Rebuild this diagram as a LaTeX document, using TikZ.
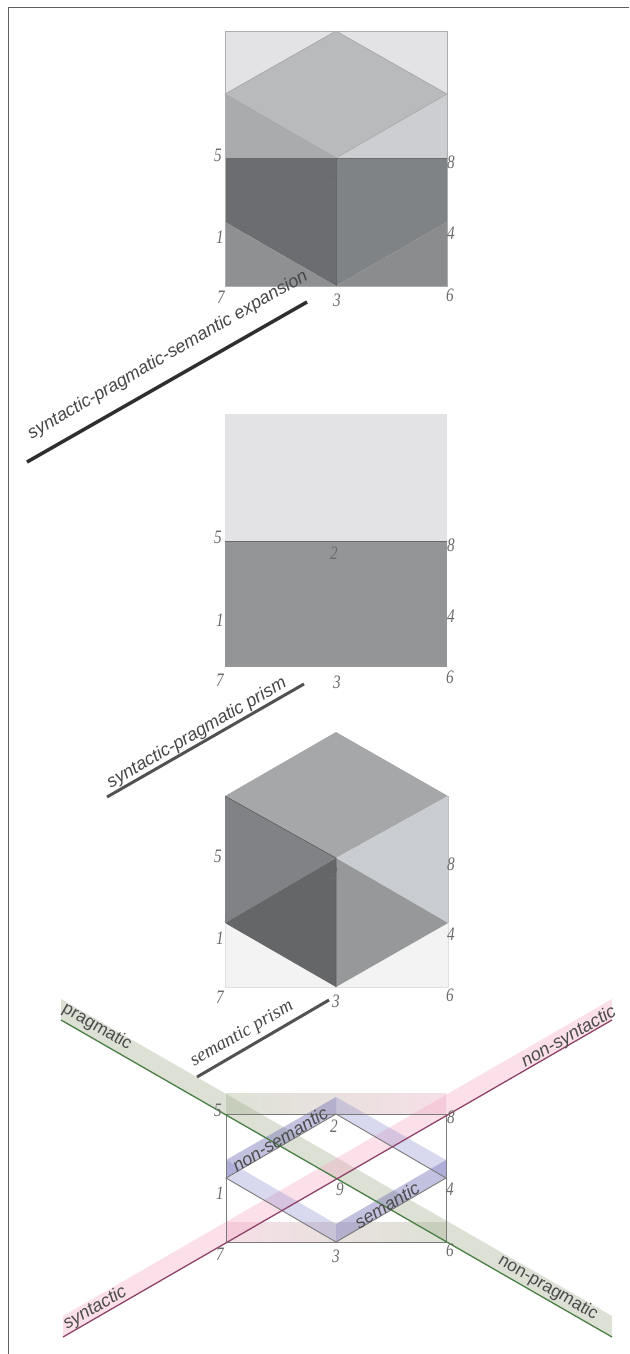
\documentclass[tikz,border=0pt]{standalone}
\usepackage{fontspec}
\usetikzlibrary{calc}
\setmainfont{Liberation Sans}
\newfontfamily\serifit{Liberation Serif}
\definecolor{aTop}{HTML}{E3E3E6}
\definecolor{aRh}{HTML}{B8BABC}
\definecolor{aLt}{HTML}{A9ABAD}
\definecolor{aRt}{HTML}{CCCED1}
\definecolor{aMl}{HTML}{6B6D70}
\definecolor{aMr}{HTML}{808385}
\definecolor{aBl}{HTML}{8E9092}
\definecolor{aBr}{HTML}{8A8C8E}
\definecolor{bLow}{HTML}{939597}
\definecolor{dRh}{HTML}{A5A7A9}
\definecolor{dLf}{HTML}{808285}
\definecolor{dLl}{HTML}{646668}
\definecolor{dLr}{HTML}{96989A}
\definecolor{dUr}{HTML}{C9CCD0}
\definecolor{dLow}{HTML}{F3F3F3}
\definecolor{gBand}{HTML}{A2AC8F}
\definecolor{pBand}{HTML}{F5AAC6}
\definecolor{rG}{HTML}{DDE2D6}
\definecolor{rM}{HTML}{E4DEDD}
\definecolor{rP}{HTML}{F6DFE7}
\definecolor{vDark}{HTML}{6060B0}
\definecolor{vLight}{HTML}{8080C8}
\definecolor{gLine}{HTML}{4A7F45}
\definecolor{pLine}{HTML}{8E4468}
\begin{document}
\begin{tikzpicture}[x=1pt,y=-1pt,
  numlab/.style={font=\serifit\itshape\fontsize{19}{19}\selectfont,text=black!58,inner sep=0pt,xscale=.8},
  caplab/.style={font=\itshape\fontsize{18}{18}\selectfont,text=black!72,inner sep=0pt,rotate=30},
  bandlab/.style={font=\itshape\fontsize{18}{18}\selectfont,text=black!70,inner sep=0pt},
  bandlabup/.style={font=\fontsize{17.5}{18}\selectfont,text=black!70,inner sep=0pt},
  capline/.style={line width=3pt,draw=black!68},
  edgeg/.style={draw=black!35,line width=0.6pt},
  greenband/.style={fill=gBand,fill opacity=.37},
  pinkband/.style={fill=pBand,fill opacity=.36},
  purpband/.style={fill=vDark,fill opacity=.38},
  purplight/.style={fill=vLight,fill opacity=.3},
  greenline/.style={draw=gLine,line width=1.3pt},
  pinkline/.style={draw=pLine,line width=1.3pt}]
\useasboundingbox (0,0) rectangle (629,1354);
\fill[white] (0,0) rectangle (629,1354);
\draw[black!62,line width=1.3pt] (8.5,1354) -- (8.5,7.5) -- (629,7.5);

% ---------- panel 1
\coordinate (a7) at (225,286); \coordinate (a6) at (447,286);
\coordinate (a5) at (225,158); \coordinate (a8) at (447,158);
\coordinate (aTL) at (225,31); \coordinate (aTR) at (447,31);
\coordinate (aT) at (336,31); \coordinate (aL) at (225,94); \coordinate (aR) at (447,94);
\coordinate (a2) at (336,158); \coordinate (a3) at (336,286);
\coordinate (a1) at (225,222); \coordinate (a4) at (447,222);
\fill[aTop] (aTL) -- (aTR) -- (aR) -- (aL) -- cycle;
\fill[aRh] (aT) -- (aR) -- (a2) -- (aL) -- cycle;
\fill[aLt] (aL) -- (a2) -- (a5) -- cycle;
\fill[aRt] (aR) -- (a2) -- (a8) -- cycle;
\fill[aMl] (a5) -- (a2) -- (a3) -- (a1) -- cycle;
\fill[aMr] (a2) -- (a8) -- (a4) -- (a3) -- cycle;
\fill[aBl] (a1) -- (a3) -- (a7) -- cycle;
\fill[aBr] (a4) -- (a3) -- (a6) -- cycle;
\draw[edgeg] (aL) -- (aT) -- (aR) -- (a2) -- cycle;
\draw[black!58,line width=1pt] (a5) -- (a8);
\draw[black!60,line width=0.5pt] (a2) -- (a3);
\draw[black!32,line width=0.8pt] (aTL) rectangle (a6);
\node[numlab] (a5t) at (218,155) {5};
\node[numlab] (a2t) at (334,172) {2};
\node[numlab] (a8t) at (451,162) {8};
\node[numlab] (a1t) at (220,237) {1};
\node[numlab] (a4t) at (451,233) {4};
\node[numlab] (a7t) at (221,297) {7};
\node[numlab] (a3t) at (337,300) {3};
\node[numlab] (a6t) at (450,295) {6};
\coordinate (c1s) at (27,462); \coordinate (c1e) at (307,302);
\draw[capline,line width=3.5pt,draw=black!82] (c1s) -- (c1e);
\node[caplab] (c1) at (168,355) {syntactic-pragmatic-semantic expansion};

% ---------- panel 2
\coordinate (b7) at (225,667); \coordinate (b6) at (447,667);
\coordinate (b5) at (225,541); \coordinate (b8) at (447,541);
\coordinate (bTL) at (225,414); \coordinate (bTR) at (447,414);
\fill[aTop] (bTL) rectangle (b8);
\fill[bLow] (b5) rectangle (b6);
\draw[black!58,line width=1pt] (b5) -- (b8);
\node[numlab] (b5t) at (218,537) {5};
\node[numlab] (b2t) at (334,553) {2};
\node[numlab] (b8t) at (451,545) {8};
\node[numlab] (b1t) at (220,620) {1};
\node[numlab] (b4t) at (451,616) {4};
\node[numlab] (b7t) at (220,680) {7};
\node[numlab] (b3t) at (337,682) {3};
\node[numlab] (b6t) at (450,677) {6};
\coordinate (c2s) at (107,797); \coordinate (c2e) at (304,684);
\draw[capline] (c2s) -- (c2e);
\node[caplab] (c2) at (197,733) {syntactic-pragmatic prism};

% ---------- panel 3
\coordinate (d7) at (225,987); \coordinate (d6) at (448,987);
\coordinate (dT) at (336,732); \coordinate (dL) at (225,796); \coordinate (dR) at (448,796);
\coordinate (d2) at (336,858); \coordinate (d3) at (336,987);
\coordinate (d1) at (225,923); \coordinate (d4) at (448,923);
\fill[dLow] (d1) -- (d3) -- (d7) -- cycle;
\fill[dLow] (d4) -- (d3) -- (d6) -- cycle;
\fill[dRh] (dT) -- (dR) -- (d2) -- (dL) -- cycle;
\fill[dLf] (dL) -- (d2) -- (d1) -- cycle;
\fill[dUr] (dR) -- (d2) -- (d4) -- cycle;
\fill[dLl] (d1) -- (d2) -- (d3) -- cycle;
\fill[dLr] (d2) -- (d4) -- (d3) -- cycle;
\draw[black!12,line width=.6pt] (d1) -- (d7) -- (d6) -- (d4);
\draw[black!68,line width=.5pt] (dL) -- (d2) -- (d3);
\draw[black!25,line width=.5pt] (dR) -- (d4);
\node[numlab] (d5t) at (218,856) {5};
\node[numlab] (d2t) at (334,873) {2};
\node[numlab] (d8t) at (451,864) {8};
\node[numlab] (d1t) at (220,938) {1};
\node[numlab] (d4t) at (451,934) {4};
\node[numlab] (d7t) at (220,997) {7};
\node[numlab] (d3t) at (336,1001) {3};
\node[numlab] (d6t) at (450,995) {6};
\coordinate (c3s) at (197,1077); \coordinate (c3e) at (329,1000);
\draw[capline] (c3s) -- (c3e);
\node[font=\serifit\itshape\fontsize{19}{19}\selectfont,text=black!72,inner sep=0pt,rotate=30] (c3) at (242,1034) {semantic prism};

% ---------- panel 4
\coordinate (e5) at (226,1114); \coordinate (e8) at (446,1114);
\coordinate (e7) at (226,1242); \coordinate (e6) at (446,1242);
\coordinate (e2) at (336,1114); \coordinate (e3) at (336,1242);
\coordinate (e1) at (226,1178); \coordinate (e4) at (446,1178);
\coordinate (gs) at (61,1020); \coordinate (ge) at (612,1337);
\coordinate (ps) at (63,1337); \coordinate (pe) at (612,1020);
% rectangle bands (opaque, under the long bands)
\shade[left color=rG,middle color=rM,right color=rP] (e5) rectangle (446,1093);
\shade[left color=rP,middle color=rM,right color=rG] (e7) rectangle (446,1222);
% long bands
\fill[greenband] (gs) -- ++(0,-21) -- ($(ge)+(0,-21)$) -- (ge) -- cycle;
\fill[pinkband] (ps) -- ++(0,-21) -- ($(pe)+(0,-21)$) -- (pe) -- cycle;
% hexagon bands
\fill[purpband] (e1) -- (e2) -- (336,1097) -- (226,1160) -- cycle;
\fill[purpband] (e3) -- (e4) -- (446,1160) -- (336,1224) -- cycle;
\fill[purplight] (e1) -- (e3) -- (336,1224) -- (226,1160) -- cycle;
\fill[purplight] (e2) -- (e4) -- (446,1160) -- (336,1097) -- cycle;
% outlines
\draw[black!52,line width=.9pt] (e5) rectangle (e6);
\draw[black!52,line width=.9pt] (e1) -- (e2) -- (e4) -- (e3) -- cycle;
\draw[greenline] (gs) -- (ge);
\draw[pinkline] (ps) -- (pe);
\node[numlab] (e5t) at (218,1110) {5};
\node[numlab] (e2t) at (334,1126) {2};
\node[numlab] (e9t) at (340,1189) {9};
\node[numlab] (e8t) at (451,1117) {8};
\node[numlab] (e1t) at (220,1193) {1};
\node[numlab] (e4t) at (450,1189) {4};
\node[numlab] (e7t) at (220,1254) {7};
\node[numlab] (e3t) at (336,1256) {3};
\node[numlab] (e6t) at (450,1250) {6};
\node[bandlabup,rotate=-30] (lp) at (97,1027) {pragmatic};
\node[bandlabup,rotate=-30] (lnp) at (548,1288) {non-pragmatic};
\node[bandlab,rotate=30] (ls) at (95,1308) {syntactic};
\node[bandlab,rotate=30] (lns) at (569,1037) {non-syntactic};
\node[bandlab,rotate=31] (lnsem) at (280,1139) {non-semantic};
\node[bandlab,rotate=31] (lsem) at (387,1205) {semantic};
\end{tikzpicture}
\end{document}
